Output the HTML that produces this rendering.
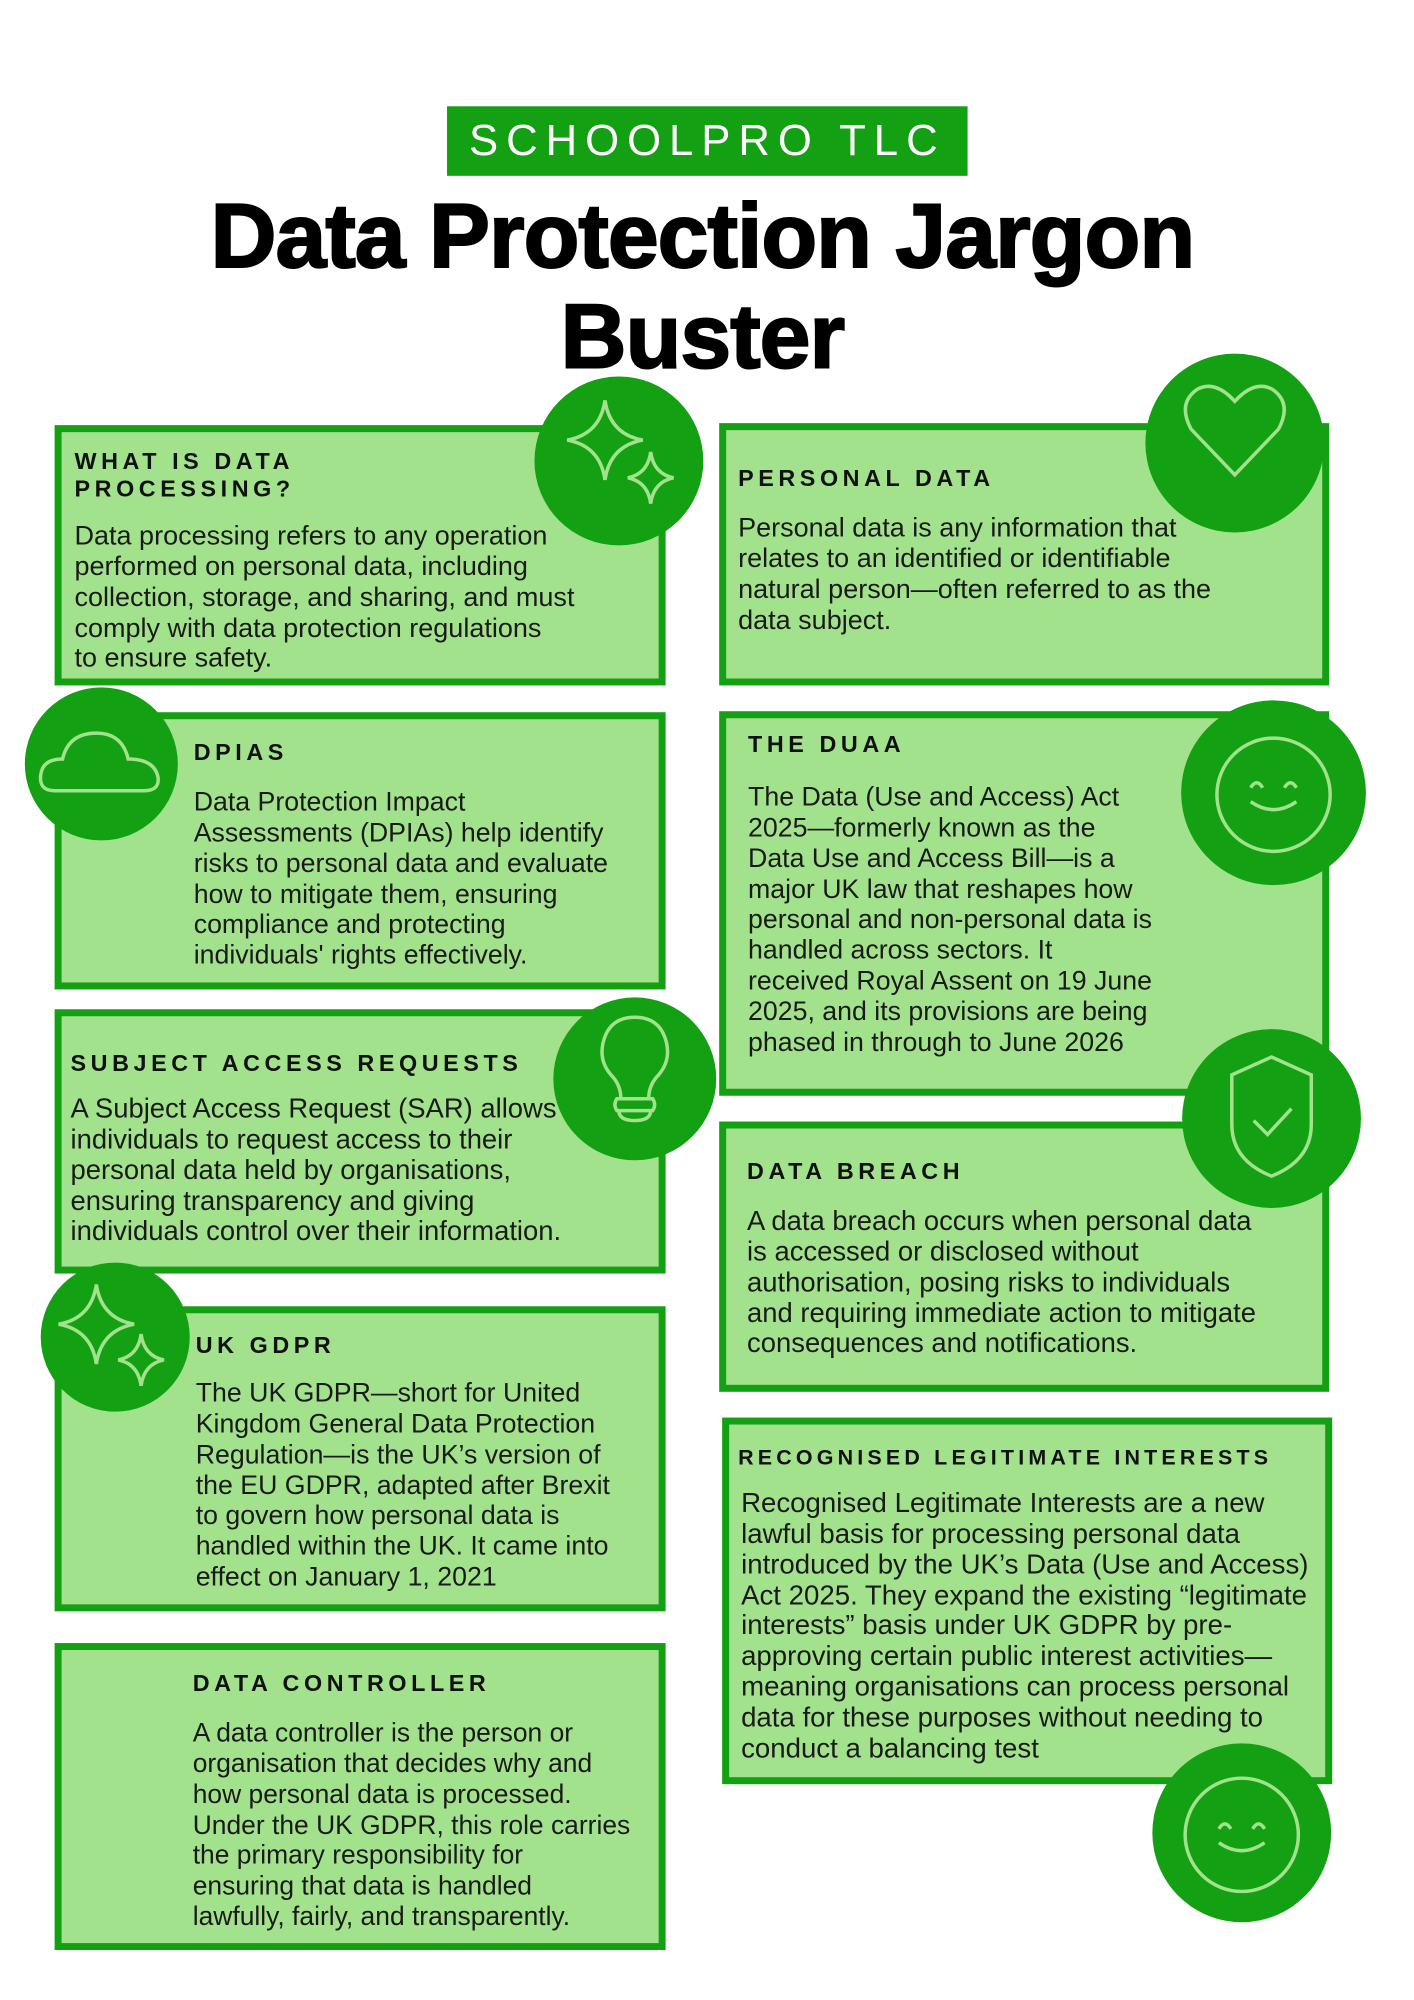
<!DOCTYPE html>
<html><head><meta charset="utf-8"><style>
body{margin:0;width:1414px;height:2000px;background:#fff;position:relative;overflow:hidden;font-family:"Liberation Sans",sans-serif;}
#w{position:absolute;left:0;top:0;width:1414px;height:2000px;transform:scale(0.9934);transform-origin:0 0;}
.box{position:absolute;background:#a3e28c;border:7px solid #13a013;box-sizing:border-box;}
.c{position:absolute;border-radius:50%;background:#13a013;}
.c svg{position:absolute;left:0;top:0;width:100%;height:100%;}
.h{position:absolute;font-weight:bold;font-size:23.5px;letter-spacing:4.6px;color:#111;line-height:28px;white-space:nowrap;}
.t{position:absolute;font-size:27px;line-height:30.85px;color:#1a1a1a;white-space:nowrap;}
</style></head><body><div id="w">
<div style="position:absolute;left:450px;top:107px;width:524px;height:70px;background:#13a013;color:#fff;font-size:44px;letter-spacing:8px;text-align:center;line-height:70px;">SCHOOLPRO TLC</div>
<div style="position:absolute;left:0;width:1414px;top:188px;text-align:center;font-weight:bold;font-size:92px;line-height:101px;letter-spacing:-1px;color:#000;-webkit-text-stroke:2px #000;">Data Protection Jargon<br>Buster</div>

<div class="box" style="left:55px;top:428px;width:615px;height:262px"></div>
<div class="box" style="left:55px;top:717px;width:615px;height:279px"></div>
<div class="box" style="left:55px;top:1016px;width:615px;height:266px"></div>
<div class="box" style="left:55px;top:1315px;width:615px;height:307px"></div>
<div class="box" style="left:55px;top:1654px;width:615px;height:309px"></div>
<div class="box" style="left:724px;top:426px;width:614px;height:264px"></div>
<div class="box" style="left:724px;top:716px;width:614px;height:387px"></div>
<div class="box" style="left:724px;top:1129px;width:614px;height:272px"></div>
<div class="box" style="left:727px;top:1427px;width:614px;height:369px"></div>

<div class="c" style="left:538px;top:379px;width:170px;height:170px"><svg viewBox="0 0 170 170" fill="none" stroke="#a3e28c" stroke-width="3.5"><path d="M71 24 Q76 58 109 64 Q76 70 71 104 Q66 70 33 64 Q66 58 71 24Z"/><path d="M117 76 Q120 98 140 102 Q120 106 117 128 Q114 106 94 102 Q114 98 117 76Z"/></svg></div>
<div class="c" style="left:1153px;top:356px;width:180px;height:180px"><svg viewBox="0 0 180 180" fill="none" stroke="#a3e28c" stroke-width="3.5"><path d="M90 48 Q110 26 128 36 Q148 50 134 76 L90 122 L46 76 Q32 50 52 36 Q70 26 90 48Z"/></svg></div>
<div class="c" style="left:25px;top:692px;width:154px;height:154px"><svg viewBox="0 0 154 154" fill="none" stroke="#a3e28c" stroke-width="3.5"><path d="M30 104 Q14 104 16 88 Q18 72 38 72 Q44 46 72 46 Q98 46 104 72 Q130 72 134 90 Q136 104 120 104 Z"/></svg></div>
<div class="c" style="left:1189px;top:705px;width:186px;height:186px"><svg viewBox="0 0 186 186" fill="none" stroke="#a3e28c" stroke-width="3.5"><circle cx="93" cy="95" r="57"/><path d="M70 88 Q76 78 82 88 M104 88 Q110 78 116 88 M70 102 Q93 118 116 102"/></svg></div>
<div class="c" style="left:557px;top:1004px;width:164px;height:164px"><svg viewBox="0 0 164 164" fill="none" stroke="#a3e28c" stroke-width="3.5"><path d="M68 102 Q68 88 58 78 Q46 64 50 46 Q56 20 82 20 Q108 20 114 46 Q118 64 106 78 Q96 88 96 102 Z M64 102 H100 Q104 108 100 114 H64 Q60 108 64 102 Z M66 114 Q66 124 82 124 Q98 124 98 114"/></svg></div>
<div class="c" style="left:1190px;top:1036px;width:180px;height:180px"><svg viewBox="0 0 180 180" fill="none" stroke="#a3e28c" stroke-width="3.5"><path d="M90 28 L130 46 V96 Q130 132 90 148 Q50 132 50 96 V46 Z"/><path d="M72 92 L86 106 L110 80"/></svg></div>
<div class="c" style="left:41px;top:1271px;width:150px;height:150px"><svg viewBox="0 0 150 150" fill="none" stroke="#a3e28c" stroke-width="3.5"><path d="M56 22 Q61 56 94 62 Q61 68 56 102 Q51 68 18 62 Q51 56 56 22Z"/><path d="M101 72 Q104 94 124 98 Q104 102 101 124 Q98 102 78 98 Q98 94 101 72Z"/></svg></div>
<div class="c" style="left:1160px;top:1755px;width:180px;height:180px"><svg viewBox="0 0 180 180" fill="none" stroke="#a3e28c" stroke-width="3.5"><circle cx="90" cy="92" r="57"/><path d="M67 86 Q73 76 79 86 M101 86 Q107 76 113 86 M67 100 Q90 116 113 100"/></svg></div>

<div class="h" style="left:75px;top:450px">WHAT IS DATA<br>PROCESSING?</div>
<div class="t" style="left:75px;top:524px;font-size:27.2px">Data processing refers to any operation<br>performed on personal data, including<br>collection, storage, and sharing, and must<br>comply with data protection regulations<br>to ensure safety.</div>

<div class="h" style="left:743px;top:467px">PERSONAL DATA</div>
<div class="t" style="left:743px;top:516px;font-size:27.2px">Personal data is any information that<br>relates to an identified or identifiable<br>natural person—often referred to as the<br>data subject.</div>

<div class="h" style="left:195px;top:743px">DPIAS</div>
<div class="t" style="left:195px;top:792px;font-size:26.9px">Data Protection Impact<br>Assessments (DPIAs) help identify<br>risks to personal data and evaluate<br>how to mitigate them, ensuring<br>compliance and protecting<br>individuals' rights effectively.</div>

<div class="h" style="left:753px;top:735px">THE DUAA</div>
<div class="t" style="left:753px;top:787px;font-size:26.9px">The Data (Use and Access) Act<br>2025—formerly known as the<br>Data Use and Access Bill—is a<br>major UK law that reshapes how<br>personal and non-personal data is<br>handled across sectors. It<br>received Royal Assent on 19 June<br>2025, and its provisions are being<br>phased in through to June 2026</div>

<div class="h" style="left:71px;top:1056px">SUBJECT ACCESS REQUESTS</div>
<div class="t" style="left:71px;top:1101px;font-size:27.6px">A Subject Access Request (SAR) allows<br>individuals to request access to their<br>personal data held by organisations,<br>ensuring transparency and giving<br>individuals control over their information.</div>

<div class="h" style="left:752px;top:1165px">DATA BREACH</div>
<div class="t" style="left:752px;top:1214px;font-size:27.6px">A data breach occurs when personal data<br>is accessed or disclosed without<br>authorisation, posing risks to individuals<br>and requiring immediate action to mitigate<br>consequences and notifications.</div>

<div class="h" style="left:197px;top:1340px">UK GDPR</div>
<div class="t" style="left:197px;top:1387px;font-size:26.9px">The UK GDPR—short for United<br>Kingdom General Data Protection<br>Regulation—is the UK’s version of<br>the EU GDPR, adapted after Brexit<br>to govern how personal data is<br>handled within the UK. It came into<br>effect on January 1, 2021</div>

<div class="h" style="left:743px;top:1453px;font-size:21.6px;letter-spacing:4.2px">RECOGNISED LEGITIMATE INTERESTS</div>
<div class="t" style="left:746px;top:1498px;font-size:27.8px">Recognised Legitimate Interests are a new<br>lawful basis for processing personal data<br>introduced by the UK’s Data (Use and Access)<br>Act 2025. They expand the existing “legitimate<br>interests” basis under UK GDPR by pre-<br>approving certain public interest activities—<br>meaning organisations can process personal<br>data for these purposes without needing to<br>conduct a balancing test</div>

<div class="h" style="left:194px;top:1680px">DATA CONTROLLER</div>
<div class="t" style="left:194px;top:1729px;font-size:26.6px">A data controller is the person or<br>organisation that decides why and<br>how personal data is processed.<br>Under the UK GDPR, this role carries<br>the primary responsibility for<br>ensuring that data is handled<br>lawfully, fairly, and transparently.</div>
</div></body></html>
